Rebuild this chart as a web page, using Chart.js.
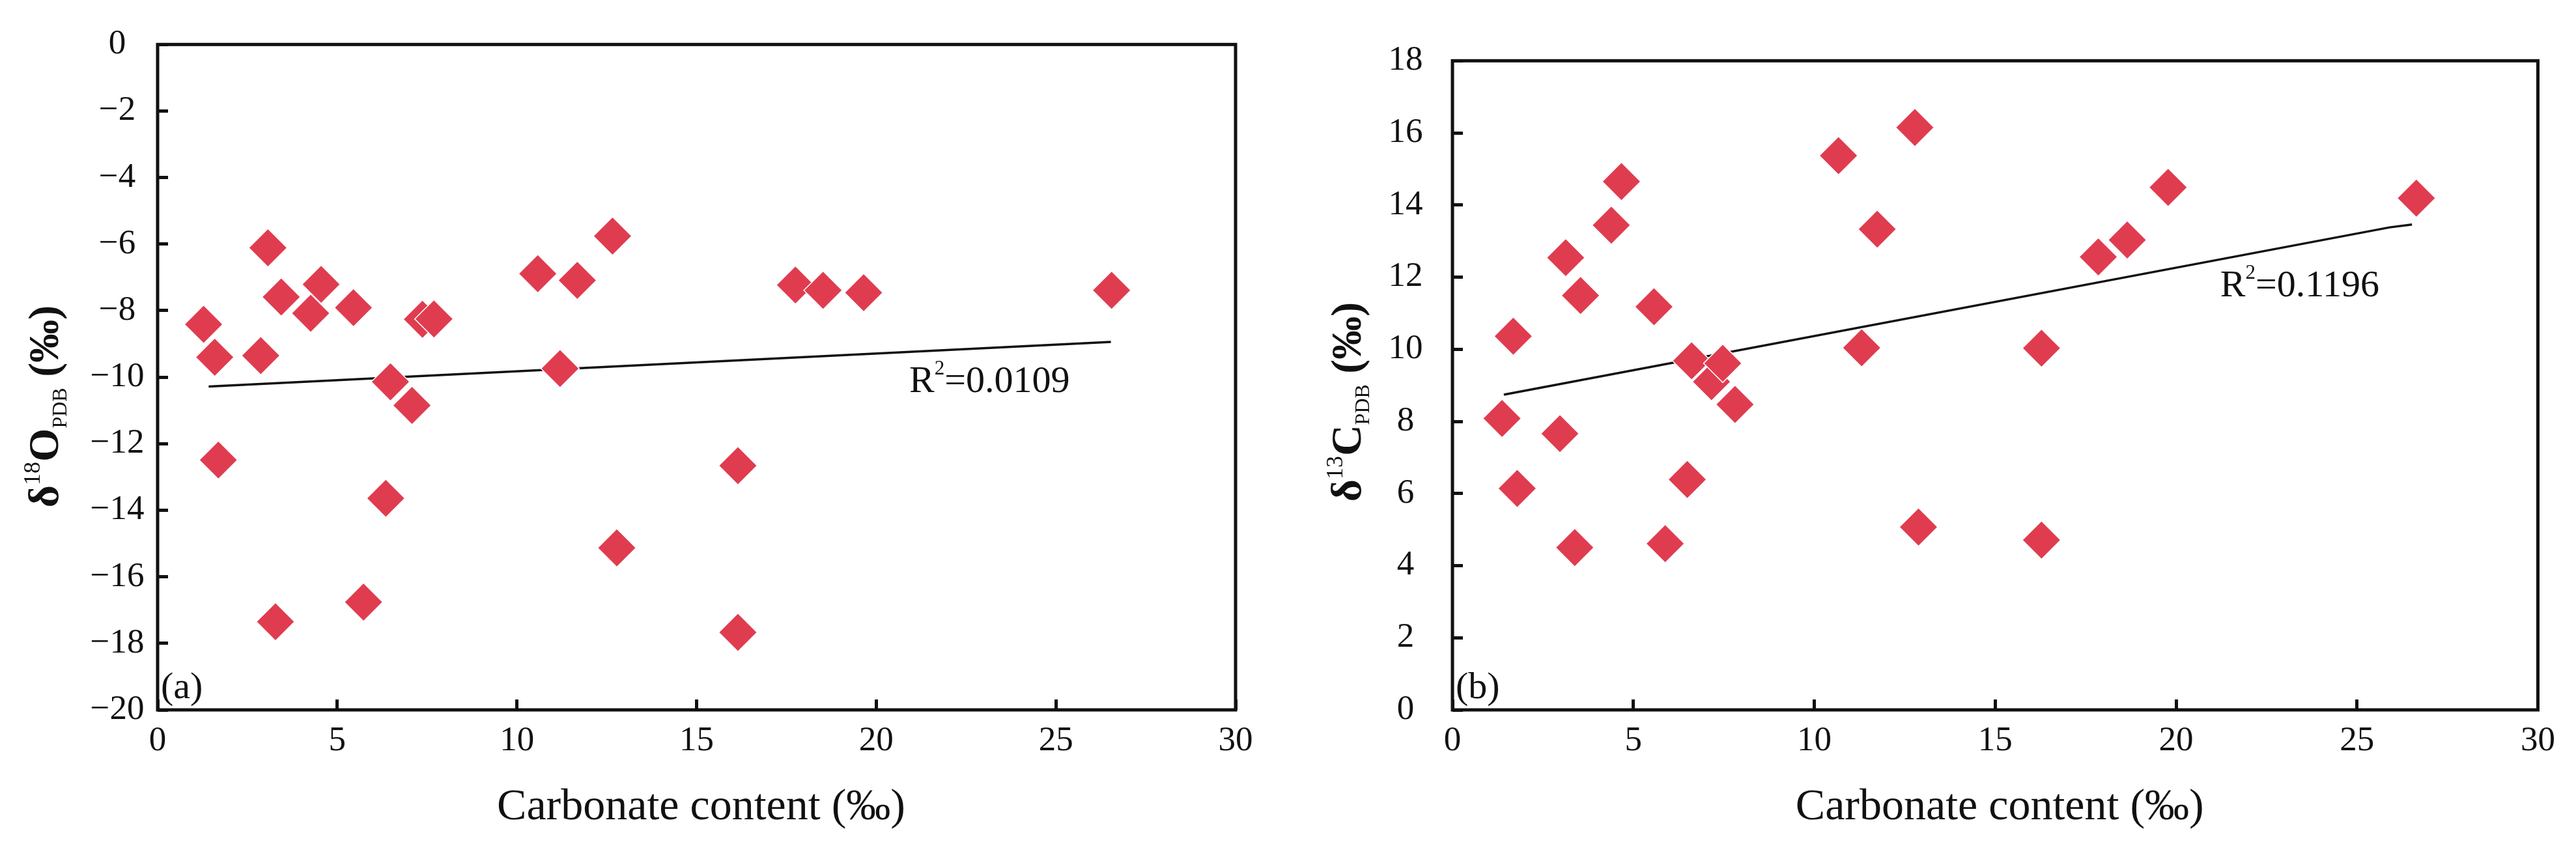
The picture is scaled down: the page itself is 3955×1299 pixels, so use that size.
<!DOCTYPE html>
<html>
<head>
<meta charset="utf-8">
<title>Carbonate content vs δ18O and δ13C</title>
<script src="https://cdn.jsdelivr.net/npm/chart.js@4.4.1/dist/chart.umd.min.js"></script>
<style>
  html, body { margin: 0; padding: 0; background: #fff; }
  body { width: 3955px; height: 1299px; position: relative; overflow: hidden; }
  .panel { position: absolute; top: 0; height: 1299px; }
  #panelA { left: 0; width: 1978px; }
  #panelB { left: 1978px; width: 1977px; }
</style>
</head>
<body>
<div class="panel" id="panelA"><canvas id="chartA" width="1978" height="1299"></canvas></div>
<div class="panel" id="panelB"><canvas id="chartB" width="1977" height="1299"></canvas></div>
<script>
// panel (a): carbonate content (‰) vs δ18O
const carbonateA = [1.28, 1.59, 1.69, 2.87, 3.07, 3.28, 3.44, 4.26, 4.55, 5.45, 5.73, 6.35, 6.48, 7.08,
  7.37, 7.69, 10.58, 11.20, 11.68, 12.66, 12.78, 16.15, 16.15, 17.75, 18.52, 19.65, 26.55];
const oxygen18 = [-8.41, -9.40, -12.49, -9.35, -6.11, -17.35, -7.59, -8.08, -7.21, -7.91, -16.76, -13.64,
  -10.14, -10.85, -8.26, -8.25, -6.89, -9.74, -7.09, -5.76, -15.13, -12.66, -17.67, -7.23, -7.39, -7.46, -7.39];

// panel (b): carbonate content (‰) vs δ13C
const carbonateB = [1.37, 1.68, 1.79, 2.97, 3.13, 3.38, 3.54, 4.39, 4.67, 5.57, 5.88, 6.49, 6.61, 7.16,
  7.47, 7.81, 10.67, 11.31, 11.74, 12.78, 12.88, 16.28, 16.28, 17.85, 18.65, 19.78, 26.64];
const carbon13 = [8.08, 10.36, 6.14, 7.66, 12.54, 4.50, 11.49, 13.44, 14.65, 11.18, 4.61, 6.39, 9.68, 9.10,
  9.61, 8.47, 15.37, 10.04, 13.33, 16.15, 5.07, 4.71, 10.03, 12.56, 13.03, 14.49, 14.19];

// trend lines as drawn
const fitAx = [1.42, 26.53];
const fitAy = [-10.28, -8.94];
const fitBx = [1.42, 25.9, 26.52];
const fitBy = [8.74, 13.38, 13.46];

const xTicks = [0, 5, 10, 15, 20, 25, 30];
const yTicksA = [0, -2, -4, -6, -8, -10, -12, -14, -16, -18, -20];
const yTicksB = [0, 2, 4, 6, 8, 10, 12, 14, 16, 18];

const SERIF = "'Liberation Serif', 'Times New Roman', serif";
const RED = '#e03c50';
const INK = '#111';

Chart.defaults.font.family = SERIF;
Chart.defaults.color = INK;

function drawRich(ctx, parts, x, y, align) {
  // parts: [text, size, weight, dy]
  let total = 0;
  parts.forEach((p) => {
    ctx.font = `${p[2]} ${p[1]}px ${SERIF}`;
    total += ctx.measureText(p[0]).width;
  });
  let cx = align === 'center' ? x - total / 2 : x;
  parts.forEach((p) => {
    ctx.font = `${p[2]} ${p[1]}px ${SERIF}`;
    ctx.fillText(p[0], cx, y + p[3]);
    cx += ctx.measureText(p[0]).width;
  });
}

const panelDecor = {
  id: 'panelDecor',
  afterDraw(chart, args, o) {
    const { ctx, chartArea: a, scales } = chart;
    ctx.save();
    ctx.fillStyle = INK;
    ctx.textAlign = 'left';
    ctx.textBaseline = 'alphabetic';

    // frame
    ctx.strokeStyle = INK;
    ctx.lineWidth = 5;
    ctx.strokeRect(a.left, a.top, a.right - a.left, a.bottom - a.top);

    // panel letter
    ctx.font = `58px ${SERIF}`;
    ctx.fillText(o.letter, a.left + 5, a.bottom - 18);

    // R² label
    const rx = scales.x.getPixelForValue(o.r2At[0]);
    const ry = scales.y.getPixelForValue(o.r2At[1]);
    drawRich(ctx, [['R', 58, 'normal', 0], ['2', 31, 'normal', -27], ['=' + o.r2, 58, 'normal', 0]], rx, ry, 'left');

    // x title
    ctx.textAlign = 'center';
    ctx.font = `68px ${SERIF}`;
    ctx.fillText('Carbonate content (‰)', (a.left + a.right) / 2 + 7, a.bottom + 168);
    ctx.textAlign = 'left';

    // y title, rotated, with super/subscripts
    ctx.translate(o.titleX, o.titleY);
    ctx.rotate(-Math.PI / 2);
    drawRich(ctx, [
      ['δ', 66, 'bold', 0],
      ['18'.replace('18', o.isotope[0]), 36, 'normal', -28],
      [o.isotope[1], 66, 'bold', 0],
      ['PDB', 32, 'normal', 13],
      [' (‰)', 66, 'bold', 0]
    ], 0, 0, 'center');
    ctx.restore();
  }
};

function buildChart(canvasId, cfg) {
  const points = cfg.xs.map((x, i) => ({ x, y: cfg.ys[i] }));
  const fit = cfg.fitX.map((x, i) => ({ x, y: cfg.fitY[i] }));

  return new Chart(document.getElementById(canvasId), {
    type: 'scatter',
    data: {
      datasets: [
        {
          data: points,
          pointStyle: 'rectRot',
          pointRadius: 29.5,
          backgroundColor: RED,
          borderColor: '#fff',
          borderWidth: 1.5,
          order: 0
        },
        {
          type: 'line',
          data: fit,
          borderColor: INK,
          borderWidth: 3.5,
          pointRadius: 0,
          fill: false,
          tension: 0,
          order: 1
        }
      ]
    },
    options: {
      responsive: false,
      devicePixelRatio: 1,
      animation: false,
      events: [],
      layout: { padding: { left: 0, top: 58, right: cfg.padRight, bottom: 0 } },
      plugins: {
        legend: { display: false },
        tooltip: { enabled: false },
        panelDecor: cfg.decor
      },
      scales: {
        x: {
          type: 'linear',
          min: 0,
          max: 30,
          afterBuildTicks: (s) => { s.ticks = xTicks.map((v) => ({ value: v })); },
          afterFit: (s) => { s.height = 209; },
          grid: { drawOnChartArea: false, tickLength: -16, lineWidth: 5, color: INK },
          border: { display: false },
          ticks: { font: { size: 53 }, color: INK, padding: 32, maxRotation: 0, autoSkip: false }
        },
        y: {
          type: 'linear',
          min: cfg.yMin,
          max: cfg.yMax,
          afterBuildTicks: (s) => { s.ticks = cfg.yTicks.map((v) => ({ value: v })); },
          afterFit: (s) => { s.width = cfg.yWidth; },
          grid: { drawOnChartArea: false, tickLength: -16, lineWidth: 5, color: INK },
          border: { display: false },
          ticks: {
            font: { size: 53 },
            color: INK,
            padding: cfg.yPad,
            crossAlign: 'center',
            autoSkip: false,
            callback: (v) => String(v).replace('-', '\u2212')
          }
        }
      }
    },
    plugins: [panelDecor]
  });
}

buildChart('chartA', {
  xs: carbonateA, ys: oxygen18, fitX: fitAx, fitY: fitAy,
  yMin: -20, yMax: 0, yTicks: yTicksA, yWidth: 242, yPad: 36.5, padRight: 81,
  decor: { letter: '(a)', r2: '0.0109', r2At: [20.92, -10.45], isotope: ['18', 'O'], titleX: 89, titleY: 624 }
});

buildChart('chartB', {
  xs: carbonateB, ys: carbon13, fitX: fitBx, fitY: fitBy,
  yMin: 0, yMax: 18, yTicks: yTicksB, yWidth: 252, yPad: 61.5, padRight: 57,
  decor: { letter: '(b)', r2: '0.1196', r2At: [21.22, 11.46], isotope: ['13', 'C'], titleX: 111, titleY: 617 }
});
</script>
</body>
</html>
